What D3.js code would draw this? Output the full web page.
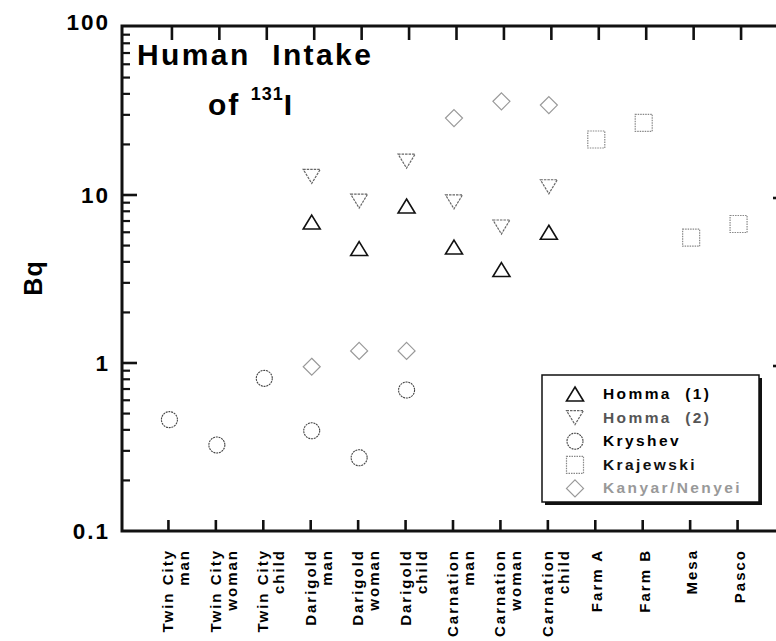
<!DOCTYPE html>
<html>
<head>
<meta charset="utf-8">
<script src="https://cdn.jsdelivr.net/npm/d3@7/dist/d3.min.js"></script>
<style>
  html, body { margin: 0; padding: 0; background: #fff; }
  svg { display: block; font-family: "Liberation Sans", Arial, Helvetica, sans-serif; }
</style>
</head>
<body>
<svg id="chart" width="776" height="641"></svg>
<script>
// Sampling sites / population groups along the x axis
const categories = [
  "Twin City man", "Twin City woman", "Twin City child",
  "Darigold man", "Darigold woman", "Darigold child",
  "Carnation man", "Carnation woman", "Carnation child",
  "Farm A", "Farm B", "Mesa", "Pasco"
];
// Tick labels, split over two rotated lines
const categoryLines = [
  ["Twin City", "man"], ["Twin City", "woman"], ["Twin City", "child"],
  ["Darigold", "man"], ["Darigold", "woman"], ["Darigold", "child"],
  ["Carnation", "man"], ["Carnation", "woman"], ["Carnation", "child"],
  ["Farm A"], ["Farm B"], ["Mesa"], ["Pasco"]
];

// 131I intake, Bq, by source
const hommaOne = [
  { c: "Darigold man", v: 6.9 }, { c: "Darigold woman", v: 4.8 }, { c: "Darigold child", v: 8.6 },
  { c: "Carnation man", v: 4.9 }, { c: "Carnation woman", v: 3.6 }, { c: "Carnation child", v: 6.0 }
];
const hommaTwo = [
  { c: "Darigold man", v: 12.9 }, { c: "Darigold woman", v: 9.2 }, { c: "Darigold child", v: 15.9 },
  { c: "Carnation man", v: 9.1 }, { c: "Carnation woman", v: 6.45 }, { c: "Carnation child", v: 11.2 }
];
const kryshev = [
  { c: "Twin City man", v: 0.46 }, { c: "Twin City woman", v: 0.325 }, { c: "Twin City child", v: 0.81 },
  { c: "Darigold man", v: 0.395 }, { c: "Darigold woman", v: 0.273 }, { c: "Darigold child", v: 0.69 }
];
const krajewski = [
  { c: "Farm A", v: 21.4 }, { c: "Farm B", v: 26.9 }, { c: "Mesa", v: 5.57 }, { c: "Pasco", v: 6.72 }
];
const kanyarNenyei = [
  { c: "Darigold man", v: 0.95 }, { c: "Darigold woman", v: 1.18 }, { c: "Darigold child", v: 1.18 },
  { c: "Carnation man", v: 28.7 }, { c: "Carnation woman", v: 36.1 }, { c: "Carnation child", v: 34.3 }
];

const yMajor = [0.1, 1, 10, 100];
const yMajorLabels = ["0.1", "1", "10", "100"];

// Marker shapes (paths centred on 0,0)
const shapes = {
  up:      "M0,-7L8.5,7L-8.5,7Z",
  down:    "M-8.5,-7L8.5,-7L0,7Z",
  circle:  "M8,0A8,8 0 1,1 -8,0A8,8 0 1,1 8,0Z",
  square:  "M-8.5,-8.5H8.5V8.5H-8.5Z",
  diamond: "M0,-8.5L8.5,0L0,8.5L-8.5,0Z"
};

const series = [
  { name: "Homma  (1)", data: hommaOne, shape: "up", stroke: "#111", width: 1.6, dash: null, text: "#000" },
  { name: "Homma  (2)", data: hommaTwo, shape: "down", stroke: "#666", width: 1.2, dash: "2.5,1", text: "#555" },
  { name: "Kryshev", data: kryshev, shape: "circle", stroke: "#444", width: 1.1, dash: "2,0.8", text: "#000" },
  { name: "Krajewski", data: krajewski, shape: "square", stroke: "#888", width: 1.2, dash: "1.5,1", text: "#111" },
  { name: "Kanyar/Nenyei", data: kanyarNenyei, shape: "diamond", stroke: "#999", width: 1.2, dash: null, text: "#999" }
];

const svg = d3.select("#chart");
const plotLeft = 122, plotRight = 786, plotTop = 26, plotBottom = 531;

const x = d3.scalePoint().domain(categories).range([plotLeft, plotRight]).padding(1);
const y = d3.scaleLog().domain([0.1, 100]).range([plotBottom, plotTop + 1]);

const axisColor = "#111";

// Minor ticks for each decade
const minorTicks = [];
[0.1, 1, 10].forEach(d => { for (let k = 2; k <= 9; k++) minorTicks.push(d * k); });

const g = svg.append("g");

// Left axis ticks (inward)
g.selectAll(".ymaj").data(yMajor.slice(1, 3)).join("line")
  .attr("x1", plotLeft).attr("x2", plotLeft + 15)
  .attr("y1", d => y(d)).attr("y2", d => y(d))
  .attr("stroke", axisColor).attr("stroke-width", 2.6);
g.selectAll(".ymin").data(minorTicks).join("line")
  .attr("x1", plotLeft).attr("x2", plotLeft + 8)
  .attr("y1", d => y(d)).attr("y2", d => y(d))
  .attr("stroke", axisColor).attr("stroke-width", 2.2);

// Right axis ticks (inward)
g.selectAll(".yr").data(yMajor.slice(1, 3)).join("line")
  .attr("x1", plotRight).attr("x2", plotRight - 13)
  .attr("y1", d => y(d) + 3).attr("y2", d => y(d) + 3)
  .attr("stroke", axisColor).attr("stroke-width", 2.6);
g.selectAll(".yrmin").data(minorTicks).join("line")
  .attr("x1", plotRight).attr("x2", plotRight - 8)
  .attr("y1", d => y(d) + 3).attr("y2", d => y(d) + 3)
  .attr("stroke", axisColor).attr("stroke-width", 2.2);

// Top and bottom category ticks
g.selectAll(".xt").data(categories).join("line")
  .attr("x1", d => x(d) + 2.5).attr("x2", d => x(d) + 2.5)
  .attr("y1", plotTop + 1).attr("y2", plotTop + 14)
  .attr("stroke", axisColor).attr("stroke-width", 2.6);
g.selectAll(".xb").data(categories).join("line")
  .attr("x1", d => x(d) - 1).attr("x2", d => x(d) - 1)
  .attr("y1", plotBottom).attr("y2", plotBottom - 11)
  .attr("stroke", axisColor).attr("stroke-width", 2.6);

// Frame
g.append("path")
  .attr("d", `M${plotRight},${plotTop}H${plotLeft}V${plotBottom}H${plotRight}`)
  .attr("fill", "none").attr("stroke", axisColor).attr("stroke-width", 3);

// Y tick labels
g.selectAll(".ylab").data(yMajor).join("text")
  .attr("x", 110)
  .attr("y", (d, i) => y(d) + (i === 3 ? 3 : 8))
  .attr("text-anchor", "end")
  .attr("font-size", 22.5).attr("font-weight", "bold")
  .attr("letter-spacing", 2)
  .attr("fill", "#000")
  .text((d, i) => yMajorLabels[i]);

// Y axis title
g.append("text")
  .attr("transform", "translate(42,278) rotate(-90)")
  .attr("text-anchor", "middle")
  .attr("font-size", 25).attr("font-weight", "bold")
  .attr("letter-spacing", 1)
  .text("Bq");

// Category labels, rotated
const lab = g.selectAll(".xl").data(categories).join("g")
  .attr("transform", d => `translate(${x(d)},549) rotate(-90)`);
lab.each(function (d, i) {
  const lines = categoryLines[i];
  const sel = d3.select(this);
  lines.forEach((t, j) => {
    sel.append("text")
      .attr("x", 0)
      .attr("y", lines.length === 1 ? 6 : (j === 0 ? 4 : 20))
      .attr("text-anchor", "end")
      .attr("font-size", 15).attr("font-weight", "bold")
      .attr("letter-spacing", 2)
      .attr("fill", "#000")
      .attr("xml:space", "preserve")
      .text(t);
  });
});

// Title
const title = g.append("g").attr("fill", "#000").attr("font-weight", "bold");
title.append("text")
  .attr("x", 137).attr("y", 65)
  .attr("font-size", 30).attr("letter-spacing", 2.4)
  .attr("xml:space", "preserve")
  .text("Human  Intake");
const t2 = title.append("text")
  .attr("x", 208).attr("y", 115)
  .attr("font-size", 30).attr("letter-spacing", 2);
t2.append("tspan").text("of ");
t2.append("tspan").attr("font-size", 18).attr("dy", -15).attr("letter-spacing", 1).text("131");
t2.append("tspan").attr("dy", 15).text("I");

// Markers
series.forEach(s => {
  g.append("g").selectAll("path").data(s.data).join("path")
    .attr("transform", d => `translate(${x(d.c)},${y(d.v)})`)
    .attr("d", shapes[s.shape])
    .attr("fill", "none")
    .attr("stroke", s.stroke)
    .attr("stroke-width", s.width)
    .attr("stroke-dasharray", s.dash);
});

// Legend
const lg = g.append("g");
lg.append("rect").attr("x", 545).attr("y", 378).attr("width", 217).attr("height", 127).attr("fill", "#111");
lg.append("rect").attr("x", 542).attr("y", 375).attr("width", 217).attr("height", 127)
  .attr("fill", "#fff").attr("stroke", "#111").attr("stroke-width", 1.5);
const rows = lg.selectAll(".row").data(series).join("g")
  .attr("transform", (d, i) => `translate(0,${399 + i * 23.6})`);
rows.append("path")
  .attr("transform", "translate(575,-5)")
  .attr("d", d => shapes[d.shape])
  .attr("fill", "none")
  .attr("stroke", d => d.stroke)
  .attr("stroke-width", d => d.width)
  .attr("stroke-dasharray", d => d.dash);
rows.append("text")
  .attr("x", 603).attr("y", 0)
  .attr("font-size", 15.5).attr("font-weight", "bold")
  .attr("letter-spacing", 2.4)
  .attr("xml:space", "preserve")
  .attr("fill", d => d.text)
  .text(d => d.name);
</script>
</body>
</html>
